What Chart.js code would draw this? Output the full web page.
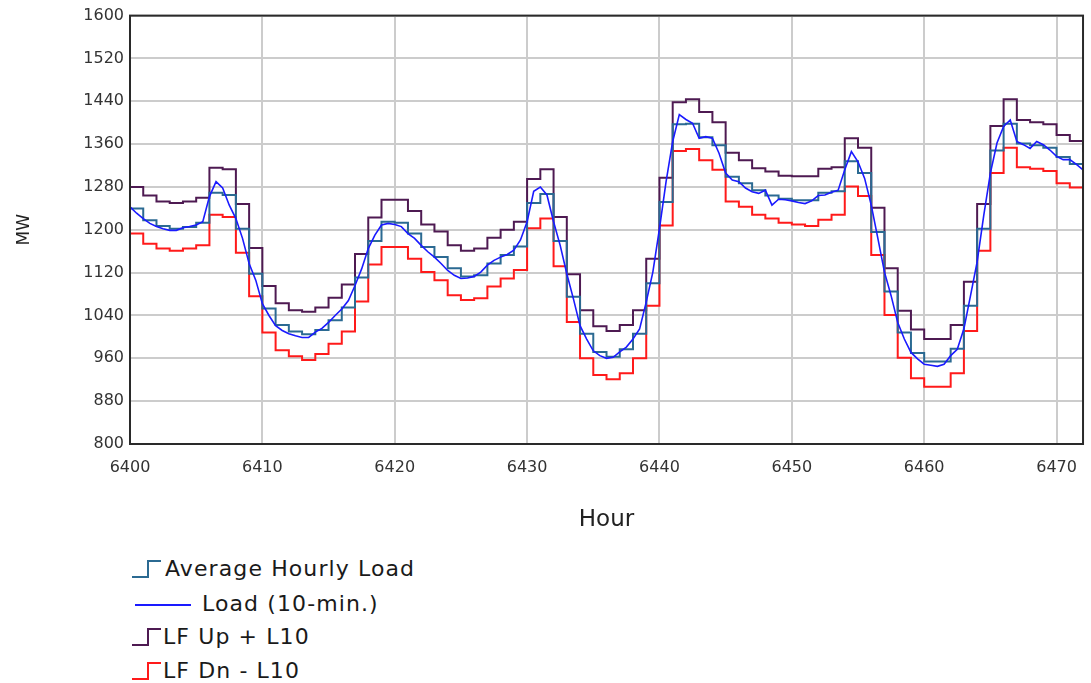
<!DOCTYPE html>
<html>
<head>
<meta charset="utf-8">
<script src="https://cdn.jsdelivr.net/npm/chart.js@4.4.1/dist/chart.umd.min.js"></script>
<style>
  body { margin: 0; background: #fff; font-family: "DejaVu Sans", sans-serif; }
  #wrap { position: relative; width: 1091px; height: 683px; }
  #chart { position: absolute; left: 0; top: 0; }
  .leg { position: absolute; left: 131px; font-size: 22px; letter-spacing: 1.1px; color: #1a1a1a; line-height: 24px; white-space: nowrap; }
  .leg svg { position: absolute; top: 0; }
  .leg span { position: absolute; top: 0; }
</style>
</head>
<body>
<div id="wrap">
  <canvas id="chart" width="1091" height="545"></canvas>
  <div class="leg" style="top:557px">
    <svg width="32" height="24"><polyline points="1,20 17,20 17,4 30,4" fill="none" stroke="#2b6a92" stroke-width="2"/></svg>
    <span style="left:34px">Average Hourly Load</span>
  </div>
  <div class="leg" style="top:592px">
    <svg width="64" height="24"><line x1="4" y1="13" x2="60" y2="13" stroke="#1a1aff" stroke-width="2"/></svg>
    <span style="left:71px">Load (10-min.)</span>
  </div>
  <div class="leg" style="top:625px">
    <svg width="32" height="24"><polyline points="1,20 17,20 17,4 30,4" fill="none" stroke="#4e1a52" stroke-width="2"/></svg>
    <span style="left:32px">LF Up + L10</span>
  </div>
  <div class="leg" style="top:659px">
    <svg width="32" height="24"><polyline points="1,20 17,20 17,4 30,4" fill="none" stroke="#ff1a1a" stroke-width="2"/></svg>
    <span style="left:32px">LF Dn - L10</span>
  </div>
</div>
<script>
// --- Data (MW), hour 6400 .. 6472 ---
const START_HOUR = 6400;
const X_TICKS = [6400, 6410, 6420, 6430, 6440, 6450, 6460, 6470];
const Y_TICKS = [800, 880, 960, 1040, 1120, 1200, 1280, 1360, 1440, 1520, 1600];

// hourly steps, one value per hour (last value closes the final step)
const avgHourly = [
  1240, 1218, 1207, 1202, 1205, 1213, 1269, 1265, 1202, 1118,
  1053, 1022, 1010, 1005, 1013, 1031, 1055, 1111, 1179, 1215,
  1213, 1193, 1168, 1149, 1128, 1113, 1115, 1137, 1153, 1169,
  1250, 1267, 1179, 1075, 1006, 972, 963, 977, 1006, 1100,
  1252, 1397, 1398, 1373, 1358, 1299, 1287, 1274, 1264, 1258,
  1255, 1255, 1269, 1272, 1328, 1306, 1196, 1085, 1008, 970,
  954, 954, 978, 1058, 1202, 1348, 1398, 1361, 1358, 1353,
  1336, 1323, 1310
];
const lfUp = [
  1280, 1264, 1253, 1250, 1253, 1260, 1316, 1313, 1248, 1166,
  1095, 1063, 1050, 1047, 1055, 1073, 1098, 1155, 1223, 1256,
  1256, 1235, 1210, 1197, 1171, 1161, 1165, 1185, 1200, 1215,
  1295, 1313, 1224, 1117, 1050, 1020, 1011, 1022, 1050, 1146,
  1297, 1438, 1444, 1420, 1401, 1344, 1330, 1315, 1309, 1301,
  1300, 1300, 1314, 1317, 1371, 1353, 1241, 1128, 1049, 1014,
  996, 996, 1022, 1103, 1248, 1394, 1444, 1405, 1401, 1397,
  1377, 1366, 1345
];
const lfDn = [
  1193, 1174, 1165, 1161, 1165, 1171, 1228, 1224, 1157, 1076,
  1008, 975, 964, 957, 968, 987, 1010, 1066, 1135, 1168,
  1168, 1146, 1121, 1106, 1078, 1069, 1072, 1094, 1109, 1125,
  1203, 1221, 1132, 1028, 960, 929, 921, 932, 960, 1058,
  1208, 1347, 1351, 1330, 1312, 1253, 1243, 1228, 1221, 1213,
  1210, 1207, 1219, 1228, 1281, 1263, 1153, 1041, 961, 923,
  907, 907, 932, 1011, 1161, 1306, 1353, 1317, 1314, 1310,
  1287, 1279, 1255
];
// load read every half hour
const load10 = [
  1243, 1231, 1221, 1212, 1206, 1202, 1199, 1199, 1204, 1206, 1209, 1215,
  1262, 1290, 1278, 1246, 1221, 1184, 1137, 1106, 1062, 1040, 1021, 1012,
  1006, 1002, 999, 999, 1009, 1016, 1027, 1040, 1052, 1068, 1096, 1127,
  1165, 1190, 1209, 1212, 1210, 1206, 1193, 1184, 1171, 1159, 1149, 1137,
  1124, 1115, 1109, 1110, 1113, 1121, 1134, 1143, 1149, 1154, 1162, 1181,
  1215, 1272, 1280, 1265, 1215, 1171, 1118, 1071, 1021, 996, 974, 965,
  960, 962, 972, 981, 996, 1015, 1065, 1121, 1202, 1290, 1365, 1415,
  1406, 1399, 1371, 1374, 1371, 1343, 1306, 1293, 1290, 1278, 1271, 1268,
  1274, 1246, 1257, 1256, 1254, 1251, 1249, 1254, 1264, 1265, 1270, 1274,
  1312, 1346, 1327, 1296, 1246, 1184, 1121, 1077, 1027, 996, 971, 959,
  949, 947, 945, 949, 965, 977, 1015, 1077, 1140, 1227, 1306, 1362,
  1393, 1405, 1365, 1359, 1352, 1365, 1359, 1349, 1337, 1331, 1331, 1322,
  1312
];

const hourly = arr => arr.map((v, i) => ({ x: START_HOUR + i, y: v }));
const halfHourly = arr => arr.map((v, i) => ({ x: START_HOUR + i * 0.5, y: v }));

const FONT = '"DejaVu Sans", sans-serif';

// --- Plot frame ---
const framePlugin = {
  id: 'frame',
  afterDraw(chart) {
    const a = chart.chartArea, c = chart.ctx;
    c.save();
    c.strokeStyle = '#2a2a2a';
    c.lineWidth = 2;
    c.strokeRect(a.left, a.top, a.right - a.left, a.bottom - a.top);
    c.restore();
  }
};

const ctx = document.getElementById('chart').getContext('2d');
new Chart(ctx, {
  type: 'line',
  data: {
    datasets: [
      { label: 'Load (10-min.)', data: halfHourly(load10), borderColor: '#1a1aff', borderWidth: 1.6, order: 0 },
      { label: 'Average Hourly Load', data: hourly(avgHourly), borderColor: '#2b6a92', borderWidth: 2, stepped: 'before', order: 1 },
      { label: 'LF Dn - L10', data: hourly(lfDn), borderColor: '#ff1a1a', borderWidth: 2, stepped: 'before', order: 2 },
      { label: 'LF Up + L10', data: hourly(lfUp), borderColor: '#4e1a52', borderWidth: 2, stepped: 'before', order: 3 }
    ]
  },
  options: {
    responsive: false,
    animation: false,
    devicePixelRatio: 1,
    elements: { point: { radius: 0 }, line: { tension: 0, fill: false } },
    layout: { padding: { top: 15, right: 3, left: 0, bottom: 0 } },
    plugins: { legend: { display: false }, tooltip: { enabled: false } },
    scales: {
      x: {
        type: 'linear',
        min: 6400,
        max: 6472,
        afterBuildTicks: s => { s.ticks = X_TICKS.map(v => ({ value: v })); },
        afterFit: s => { s.height = 101; },
        grid: { color: '#cccccc', lineWidth: 2, drawTicks: false },
        border: { display: false },
        ticks: { color: '#333', font: { family: FONT, size: 16 }, padding: 14, maxRotation: 0, callback: v => String(v) },
        title: { display: true, text: 'Hour', color: '#222', font: { family: FONT, size: 23 }, padding: { bottom: 11 } }
      },
      y: {
        min: 800,
        max: 1600,
        afterBuildTicks: s => { s.ticks = Y_TICKS.map(v => ({ value: v })); },
        afterFit: s => { s.width = 130; },
        grid: { color: '#cccccc', lineWidth: 2, drawTicks: false },
        border: { display: false },
        ticks: { color: '#333', font: { family: FONT, size: 16 }, padding: 6, callback: v => String(v) },
        title: { display: true, text: 'MW', color: '#222', font: { family: FONT, size: 17 }, padding: { top: 14 } }
      }
    }
  },
  plugins: [framePlugin]
});
</script>
</body>
</html>
